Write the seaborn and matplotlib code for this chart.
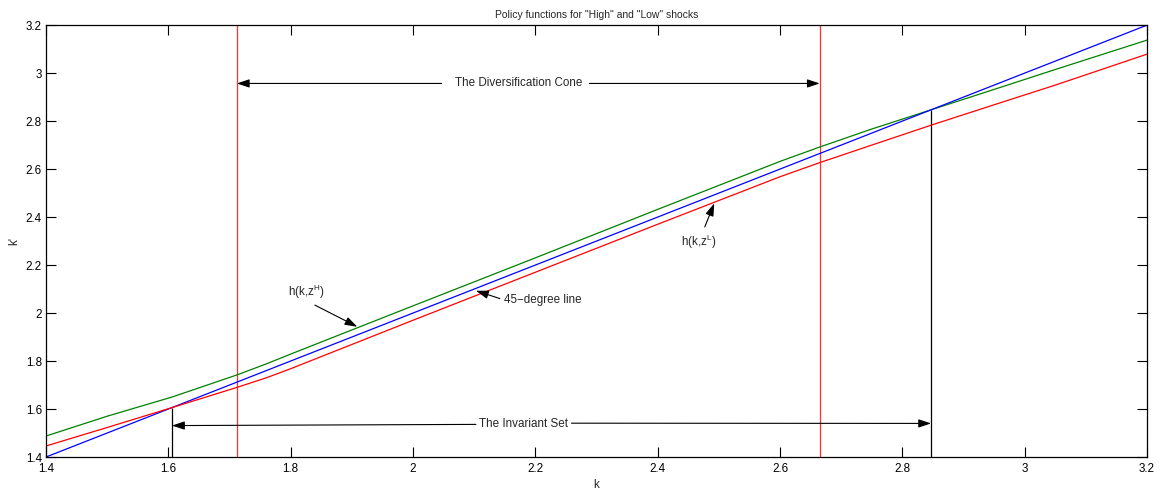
import numpy as np
import pandas as pd
import matplotlib
matplotlib.use("Agg")
import matplotlib.pyplot as plt
import seaborn as sns

# Capital grid and policy functions k' = h(k, z) for the two shocks
k_grid = [1.4, 1.5, 1.606, 1.712, 1.76, 1.8, 2.0, 2.2, 2.4, 2.6, 2.665, 2.75, 2.847, 2.95, 3.05, 3.2]
h_high = [1.4875, 1.570, 1.650, 1.742, 1.788, 1.829, 2.030, 2.230, 2.432, 2.632, 2.692, 2.767, 2.847, 2.932, 3.015, 3.1375]
h_low = [1.446, 1.523, 1.606, 1.690, 1.730, 1.768, 1.970, 2.170, 2.370, 2.568, 2.627, 2.700, 2.783, 2.868, 2.950, 3.079]

# Diversification cone bounds and invariant set bounds
cone_bounds = [1.712, 2.665]
invariant_bounds = [1.606, 2.847]

title = 'Policy functions for "High" and "Low" shocks'
x_ticks = [1.4, 1.6, 1.8, 2.0, 2.2, 2.4, 2.6, 2.8, 3.0, 3.2]
y_ticks = [1.4, 1.6, 1.8, 2.0, 2.2, 2.4, 2.6, 2.8, 3.0, 3.2]
tick_labels = ["1.4", "1.6", "1.8", "2", "2.2", "2.4", "2.6", "2.8", "3", "3.2"]

sns.set_theme(style="ticks")
plt.rcParams["font.family"] = ["Liberation Sans", "DejaVu Sans"]
plt.rcParams["xtick.direction"] = "in"
plt.rcParams["ytick.direction"] = "in"

fig = plt.figure(figsize=(11.65, 4.93), dpi=100)
ax = fig.add_axes([0.0395, 0.073, 0.945, 0.876])

lw = 0.9
sns.lineplot(x=k_grid, y=h_high, color="#008000", lw=lw, ax=ax)
sns.lineplot(x=k_grid, y=k_grid, color="#0000FF", lw=lw, ax=ax)
sns.lineplot(x=k_grid, y=h_low, color="#FF0000", lw=lw, ax=ax)

for xb in cone_bounds:
    ax.axvline(xb, color="#FF3030", lw=lw, zorder=1)
ax.vlines(invariant_bounds, 1.4, invariant_bounds, color="black", lw=lw, zorder=1)

ax.set_xlim(1.4, 3.2)
ax.set_ylim(1.4, 3.2)
ax.set_xticks(x_ticks)
ax.set_xticklabels(tick_labels)
ax.set_yticks(y_ticks)
ax.set_yticklabels(tick_labels)
ax.tick_params(axis="both", which="both", direction="in", length=7.5, width=0.8,
               labelsize=8.4, top=True, right=True, colors="black")
ax.tick_params(axis="x", pad=4.5)
ax.tick_params(axis="y", pad=3)
for s in ax.spines.values():
    s.set_visible(True)
    s.set_linewidth(0.9)
    s.set_color("black")

ax.set_title(title, fontsize=7.5, pad=5)
ax.set_xlabel("k", fontsize=8.4, labelpad=3)
ax.set_ylabel("k'", fontsize=8.4, labelpad=4)

fs = 8.4
arrow = dict(arrowstyle="-|>,head_length=0.9,head_width=0.3", color="black", lw=0.8,
             shrinkA=2, shrinkB=0)

# Diversification cone: label with arrows to both bounds
cone_y = 2.957
ax.annotate("The Diversification Cone", xy=(cone_bounds[0], cone_y), xytext=(2.172, cone_y),
            ha="center", va="center", fontsize=fs, arrowprops=dict(arrow, relpos=(0, 0.5), shrinkA=7))
ax.annotate("The Diversification Cone", xy=(cone_bounds[1], cone_y), xytext=(2.172, cone_y),
            ha="center", va="center", fontsize=fs, color="none",
            arrowprops=dict(arrow, relpos=(1, 0.5), shrinkA=3))

# Invariant set: label with arrows to both bounds
inv_y = 1.536
ax.annotate("The Invariant Set", xy=(invariant_bounds[0], 1.531), xytext=(2.181, inv_y),
            ha="center", va="center", fontsize=fs, arrowprops=dict(arrow, relpos=(0, 0.5), shrinkA=0))
ax.annotate("The Invariant Set", xy=(invariant_bounds[1], 1.540), xytext=(2.181, inv_y),
            ha="center", va="center", fontsize=fs, color="none",
            arrowprops=dict(arrow, relpos=(1, 0.6), shrinkA=0))

# Curve labels
ax.annotate(r"h(k,z$^\mathregular{H}$)", xy=(1.909, 1.943), xytext=(1.825, 2.09),
            ha="center", va="center", fontsize=fs, arrowprops=dict(arrow, relpos=(0.5, 0), shrinkA=2))
ax.annotate("45\u2212degree line", xy=(2.103, 2.093), xytext=(2.213, 2.054),
            ha="center", va="center", fontsize=fs, arrowprops=dict(arrow, relpos=(0, 0.5), shrinkA=1))
ax.annotate(r"h(k,z$^\mathregular{L}$)", xy=(2.4925, 2.457), xytext=(2.4675, 2.297),
            ha="center", va="center", fontsize=fs, arrowprops=dict(arrow, relpos=(0.6, 1), shrinkA=2))

fig.savefig("out.png", dpi=100, facecolor="white")
